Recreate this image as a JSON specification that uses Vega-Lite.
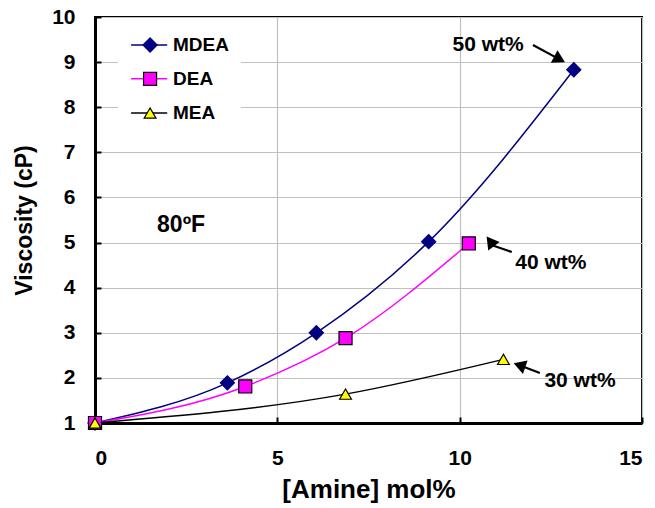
{
  "$schema": "https://vega.github.io/schema/vega-lite/v6.json",
  "width": 547,
  "height": 406,
  "autosize": "none",
  "padding": {"left": 95, "top": 17, "right": 13, "bottom": 85},
  "background": "white",
  "config": {
    "view": {"stroke": "black", "strokeWidth": 2},
    "font": "Liberation Sans",
    "axis": {
      "labelFont": "Liberation Sans", "labelFontWeight": "bold", "labelFontSize": 21, "labelColor": "black",
      "titleFont": "Liberation Sans", "titleFontWeight": "bold", "titleFontSize": 25, "titleColor": "black",
      "domainColor": "black", "domainWidth": 3,
      "tickColor": "black", "tickWidth": 2, "tickSize": -6,
      "gridColor": "#c0c0c0", "gridWidth": 1.2, "gridOpacity": 1
    }
  },
  "datasets": {
    "series": [
      {"amine": "MDEA", "mol": 0, "visc": 1.0},
      {"amine": "MDEA", "mol": 3.63, "visc": 1.89},
      {"amine": "MDEA", "mol": 6.07, "visc": 3.0},
      {"amine": "MDEA", "mol": 9.15, "visc": 5.02},
      {"amine": "MDEA", "mol": 13.13, "visc": 8.83},
      {"amine": "DEA", "mol": 0, "visc": 1.0},
      {"amine": "DEA", "mol": 4.12, "visc": 1.81},
      {"amine": "DEA", "mol": 6.87, "visc": 2.88},
      {"amine": "DEA", "mol": 10.25, "visc": 4.98},
      {"amine": "MEA", "mol": 0, "visc": 1.0},
      {"amine": "MEA", "mol": 6.87, "visc": 1.64},
      {"amine": "MEA", "mol": 11.2, "visc": 2.41}
    ],
    "legend": [
      {"amine": "MDEA", "x1": 0.99, "x2": 1.98, "xm": 1.51, "xt": 2.14, "y": 9.38},
      {"amine": "DEA", "x1": 0.99, "x2": 1.98, "xm": 1.51, "xt": 2.14, "y": 8.63},
      {"amine": "MEA", "x1": 0.99, "x2": 1.98, "xm": 1.51, "xt": 2.14, "y": 7.87}
    ],
    "notes": [
      {"label": "50 wt%", "tx": 10.78, "ty": 9.38, "ax": 12.01, "ay": 9.38, "hx": 12.74, "hy": 9.06},
      {"label": "40 wt%", "tx": 12.5, "ty": 4.55, "ax": 11.43, "ay": 4.79, "hx": 10.85, "hy": 4.95},
      {"label": "30 wt%", "tx": 13.3, "ty": 1.93, "ax": 12.2, "ay": 2.11, "hx": 11.64, "hy": 2.28}
    ]
  },
  "layer": [
    {
      "data": {"values": [{"x1": 0.63, "x2": 4.0, "y1": 7.5, "y2": 9.8}]},
      "mark": {"type": "rect", "fill": "white", "stroke": null},
      "encoding": {
        "x": {"field": "x1", "type": "quantitative", "scale": {"domain": [0, 15], "nice": false, "zero": false},
              "axis": {"values": [0, 5, 10, 15], "title": "[Amine] mol%", "titleFontSize": 26, "labelPadding": 30, "titlePadding": 8}},
        "x2": {"field": "x2"},
        "y": {"field": "y1", "type": "quantitative", "scale": {"domain": [1, 10], "nice": false, "zero": false},
              "axis": {"values": [1, 2, 3, 4, 5, 6, 7, 8, 9, 10], "title": "Viscosity (cP)", "titleFontSize": 23, "labelPadding": 26, "titlePadding": 15}},
        "y2": {"field": "y2"}
      }
    },
    {
      "data": {"name": "series"},
      "mark": {"type": "line", "interpolate": "monotone", "strokeWidth": 1.5},
      "encoding": {
        "x": {"field": "mol", "type": "quantitative"},
        "y": {"field": "visc", "type": "quantitative"},
        "color": {"field": "amine", "type": "nominal", "legend": null,
                  "scale": {"domain": ["MDEA", "DEA", "MEA"], "range": ["#000080", "#ff00ff", "#000000"]}},
        "order": {"field": "mol", "type": "quantitative"}
      }
    },
    {
      "data": {"name": "series"},
      "mark": {"type": "point", "filled": true, "strokeWidth": 1.2, "opacity": 1},
      "encoding": {
        "x": {"field": "mol", "type": "quantitative"},
        "y": {"field": "visc", "type": "quantitative"},
        "shape": {"field": "amine", "type": "nominal", "legend": null,
                  "scale": {"domain": ["MDEA", "DEA", "MEA"], "range": ["diamond", "square", "triangle-up"]}},
        "fill": {"field": "amine", "type": "nominal", "legend": null,
                 "scale": {"domain": ["MDEA", "DEA", "MEA"], "range": ["#000080", "#ff00ff", "#ffff00"]}},
        "stroke": {"field": "amine", "type": "nominal", "legend": null,
                   "scale": {"domain": ["MDEA", "DEA", "MEA"], "range": ["#000080", "#000000", "#000000"]}},
        "size": {"field": "amine", "type": "nominal", "legend": null,
                 "scale": {"domain": ["MDEA", "DEA", "MEA"], "range": [200, 140, 160]}}
      }
    },
    {
      "data": {"name": "legend"},
      "mark": {"type": "rule", "strokeWidth": 1.5},
      "encoding": {
        "x": {"field": "x1", "type": "quantitative"},
        "x2": {"field": "x2"},
        "y": {"field": "y", "type": "quantitative"},
        "color": {"field": "amine", "type": "nominal", "legend": null}
      }
    },
    {
      "data": {"name": "legend"},
      "mark": {"type": "point", "filled": true, "strokeWidth": 1.2, "opacity": 1},
      "encoding": {
        "x": {"field": "xm", "type": "quantitative"},
        "y": {"field": "y", "type": "quantitative"},
        "shape": {"field": "amine", "type": "nominal", "legend": null},
        "fill": {"field": "amine", "type": "nominal", "legend": null},
        "stroke": {"field": "amine", "type": "nominal", "legend": null},
        "size": {"field": "amine", "type": "nominal", "legend": null}
      }
    },
    {
      "data": {"name": "legend"},
      "mark": {"type": "text", "align": "left", "baseline": "middle", "font": "Liberation Sans", "fontWeight": "bold", "fontSize": 19, "color": "black"},
      "encoding": {
        "x": {"field": "xt", "type": "quantitative"},
        "y": {"field": "y", "type": "quantitative"},
        "text": {"field": "amine", "type": "nominal"}
      }
    },
    {
      "data": {"name": "notes"},
      "mark": {"type": "text", "align": "center", "baseline": "middle", "font": "Liberation Sans", "fontWeight": "bold", "fontSize": 21, "color": "black"},
      "encoding": {
        "x": {"field": "tx", "type": "quantitative"},
        "y": {"field": "ty", "type": "quantitative"},
        "text": {"field": "label", "type": "nominal"}
      }
    },
    {
      "data": {"name": "notes"},
      "mark": {"type": "rule", "strokeWidth": 2.2, "color": "black"},
      "encoding": {
        "x": {"field": "ax", "type": "quantitative"},
        "x2": {"field": "hx"},
        "y": {"field": "ay", "type": "quantitative"},
        "y2": {"field": "hy"}
      }
    },
    {
      "data": {"name": "notes"},
      "mark": {"type": "point", "shape": "triangle-up", "filled": true, "color": "black", "opacity": 1, "size": 200},
      "encoding": {
        "x": {"field": "hx", "type": "quantitative"},
        "y": {"field": "hy", "type": "quantitative"},
        "angle": {"field": "label", "type": "nominal", "legend": null,
                  "scale": {"domain": ["50 wt%", "40 wt%", "30 wt%"], "range": [118, 289, 291]}}
      }
    },
    {
      "data": {"values": [{"x": 2.36, "y": 5.39, "t": "80ºF"}]},
      "mark": {"type": "text", "align": "center", "baseline": "middle", "font": "Liberation Sans", "fontWeight": "bold", "fontSize": 23, "color": "black"},
      "encoding": {
        "x": {"field": "x", "type": "quantitative"},
        "y": {"field": "y", "type": "quantitative"},
        "text": {"field": "t", "type": "nominal"}
      }
    }
  ]
}
